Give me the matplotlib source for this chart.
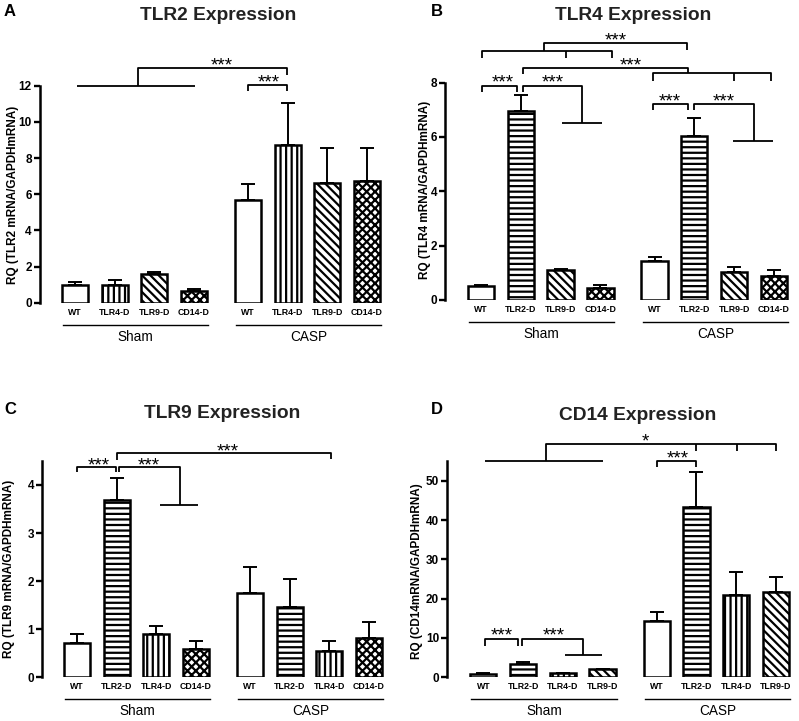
import matplotlib
matplotlib.use('Agg')
import matplotlib.pyplot as plt
import numpy as np
from matplotlib.transforms import offset_copy

plt.rcParams['font.family'] = ['Liberation Sans', 'DejaVu Sans']
plt.rcParams['hatch.linewidth'] = 1.6

W, H = 799, 721

groups = ['Sham', 'CASP']
pos = [0, 1, 2, 3, 4.36, 5.36, 6.36, 7.36]
hatches = {'WT': '', 'TLR2-D': '---', 'TLR4-D': '|||', 'TLR9-D': '\\\\\\\\', 'CD14-D': 'xxxx'}

# A - TLR2
tlr2_cats = ['WT', 'TLR4-D', 'TLR9-D', 'CD14-D']
tlr2_mean = [0.97, 0.97, 1.58, 0.64, 5.68, 8.72, 6.6, 6.73]
tlr2_err = [0.18, 0.3, 0.12, 0.12, 0.88, 2.31, 1.97, 1.84]

# B - TLR4
tlr4_cats = ['WT', 'TLR2-D', 'TLR9-D', 'CD14-D']
tlr4_mean = [0.5, 6.96, 1.12, 0.46, 1.42, 6.03, 1.04, 0.9]
tlr4_err = [0.05, 0.59, 0.03, 0.09, 0.15, 0.68, 0.18, 0.22]

# C - TLR9
tlr9_cats = ['WT', 'TLR2-D', 'TLR4-D', 'CD14-D']
tlr9_mean = [0.72, 3.69, 0.9, 0.58, 1.75, 1.46, 0.55, 0.81]
tlr9_err = [0.18, 0.45, 0.17, 0.18, 0.55, 0.58, 0.2, 0.33]

# D - CD14
cd14_cats = ['WT', 'TLR2-D', 'TLR4-D', 'TLR9-D']
cd14_mean = [0.9, 3.5, 1.0, 2.0, 14.4, 43.3, 21.0, 21.7]
cd14_err = [0.1, 0.3, 0.1, 0.2, 2.3, 8.9, 5.9, 3.8]

# significance brackets (x in bar units, y in data units)
a_lines = [([0.04, 3.02], [12.0, 12.0]),
           ([1.58, 1.58, 5.35, 5.35], [12.0, 13.0, 13.0, 12.6]),
           ([4.37, 4.37, 5.35, 5.35], [11.73, 12.04, 12.04, 11.73])]
a_stars = [(3.71, 13.3, '***'), (4.88, 12.37, '***')]

b_lines = [([0.03, 0.03, 3.28, 3.28], [8.9, 9.18, 9.18, 8.9]),
           ([2.13, 2.13], [9.18, 8.9]),
           ([1.59, 1.59, 5.18, 5.18], [9.18, 9.45, 9.45, 9.2]),
           ([1.06, 1.06, 5.21, 5.21], [8.32, 8.55, 8.55, 8.34]),
           ([4.33, 4.33, 7.29, 7.29], [8.07, 8.34, 8.34, 8.07]),
           ([6.36, 6.36], [8.34, 8.07]),
           ([0.03, 0.03, 0.91, 0.91], [7.67, 7.89, 7.89, 7.67]),
           ([1.06, 1.06, 2.53, 2.53], [7.67, 7.89, 7.89, 6.5]),
           ([2.04, 3.03], [6.5, 6.5]),
           ([4.33, 4.33, 5.21, 5.21], [6.99, 7.21, 7.21, 6.99]),
           ([5.35, 5.35, 6.87, 6.87], [6.99, 7.21, 7.21, 5.85]),
           ([6.32, 7.34], [5.85, 5.85])]
b_stars = [(3.38, 9.69, '***'), (3.75, 8.77, '***'), (0.54, 8.13, '***'),
           (1.8, 8.13, '***'), (4.75, 7.45, '***'), (6.09, 7.45, '***')]

c_lines = [([0.0, 0.0, 0.98, 0.98], [4.26, 4.38, 4.38, 4.26]),
           ([1.06, 1.06, 2.6, 2.6], [4.26, 4.38, 4.38, 3.58]),
           ([2.09, 3.06], [3.58, 3.58]),
           ([1.02, 1.02, 6.4, 6.4], [4.52, 4.67, 4.67, 4.53])]
c_stars = [(0.54, 4.48, '***'), (1.82, 4.48, '***'), (3.81, 4.78, '***')]

d_lines = [([0.04, 3.02], [55.1, 55.1]),
           ([1.58, 1.58, 7.36, 7.36], [55.1, 59.35, 59.35, 57.6]),
           ([5.35, 5.35], [59.35, 57.6]),
           ([6.37, 6.37], [59.35, 57.6]),
           ([4.36, 4.36, 5.35, 5.35], [53.6, 55.1, 55.1, 53.6]),
           ([0.04, 0.04, 0.88, 0.88], [8.0, 9.8, 9.8, 8.0]),
           ([0.965, 0.965, 2.51, 2.51], [8.0, 9.8, 9.8, 5.6]),
           ([2.05, 2.98], [5.6, 5.6])]
d_stars = [(4.07, 60.8, '*'), (4.89, 56.7, '***'), (0.46, 11.6, '***'), (1.76, 11.6, '***')]

fig = plt.figure(figsize=(W / 100, H / 100), dpi=100)


def panel(spine_x, zero_y, ppu, ymax, x0, ppx, cats, mean, err, yticks,
          lines, stars, title, title_xy, letter, letter_xy, ylabel, ylabel_xy):
    xhi = 8.1
    xlo = -(x0 - spine_x) / ppx
    right_px = x0 + xhi * ppx
    ax = fig.add_axes([spine_x / W, 1 - zero_y / H, (right_px - spine_x) / W, ymax * ppu / H])
    labels = cats * 2
    ax.errorbar(pos, mean, yerr=[np.zeros(len(err)), err], fmt='none', ecolor='black',
                elinewidth=1.4, capsize=5, capthick=1.4, zorder=1)
    for x, lab, m in zip(pos, labels, mean):
        ax.bar(x, m, width=0.66, color='white', edgecolor='black', linewidth=1.8,
               hatch=hatches[lab], zorder=2)
    ax.set_xlim(xlo, xhi)
    ax.set_ylim(0, ymax)
    for s in ['top', 'right', 'bottom']:
        ax.spines[s].set_visible(False)
    ax.spines['left'].set_linewidth(1.8)
    ax.set_yticks(yticks)
    ax.tick_params(axis='y', direction='out', length=4, width=1.7, labelsize=8.5, pad=1.5)
    plt.setp(ax.get_yticklabels(), fontweight='bold')
    ax.set_xticks(pos)
    ax.set_xticklabels(labels, fontsize=6.3, fontweight='bold')
    ax.tick_params(axis='x', length=0, pad=3.5)
    # group lines and names
    for g, (a, b) in zip(groups, [(-0.3, 3.35), (4.06, 7.72)]):
        ax.plot([a, b], [-22 / ppu, -22 / ppu], color='black', lw=1.0, clip_on=False)
        ax.text((a + b) / 2, -34 / ppu, g, ha='center', va='center', fontsize=9.8)
    for xs, ys in lines:
        ax.plot(xs, ys, color='black', lw=1.3, clip_on=False, solid_capstyle='butt')
    fs = 13.5
    tr = offset_copy(ax.transData, fig=fig, y=-0.46 * fs, units='points')
    for x, y, s in stars:
        ax.text(x, y, s, ha='center', va='baseline', fontsize=fs, transform=tr)
    fig.text(title_xy[0] / W, 1 - title_xy[1] / H, title, ha='center', va='center',
             fontsize=13.8, fontweight='bold', color='#222222')
    fig.text(letter_xy[0] / W, 1 - letter_xy[1] / H, letter, ha='center', va='center',
             fontsize=12, fontweight='bold')
    fig.text(ylabel_xy[0] / W, 1 - ylabel_xy[1] / H, ylabel, rotation=90, ha='center',
             va='center', fontsize=8.5, fontweight='bold')
    return ax


panel(39.5, 302.7, 18.08, 12, 75, 39.67, tlr2_cats, tlr2_mean, tlr2_err, range(0, 13, 2),
      a_lines, a_stars, 'TLR2 Expression', (218, 16), 'A', (10, 12),
      'RQ (TLR2 mRNA/GAPDHmRNA)', (13, 195))
panel(445, 300, 27.17, 8, 481, 39.8, tlr4_cats, tlr4_mean, tlr4_err, range(0, 9, 2),
      b_lines, b_stars, 'TLR4 Expression', (633, 15), 'B', (437, 12),
      'RQ (TLR4 mRNA/GAPDHmRNA)', (425, 190))
panel(41.7, 677.3, 48.08, 4.5, 77, 39.67, tlr9_cats, tlr9_mean, tlr9_err, range(0, 5),
      c_lines, c_stars, 'TLR9 Expression', (222, 414), 'C', (10, 410),
      'RQ (TLR9 mRNA/GAPDHmRNA)', (9, 569))
panel(446.7, 677.3, 3.932, 55, 483.3, 39.77, cd14_cats, cd14_mean, cd14_err, range(0, 51, 10),
      d_lines, d_stars, 'CD14 Expression', (638, 415), 'D', (437, 410),
      'RQ (CD14mRNA/GAPDHmRNA)', (417, 571))

fig.savefig('out.png', dpi=100)
